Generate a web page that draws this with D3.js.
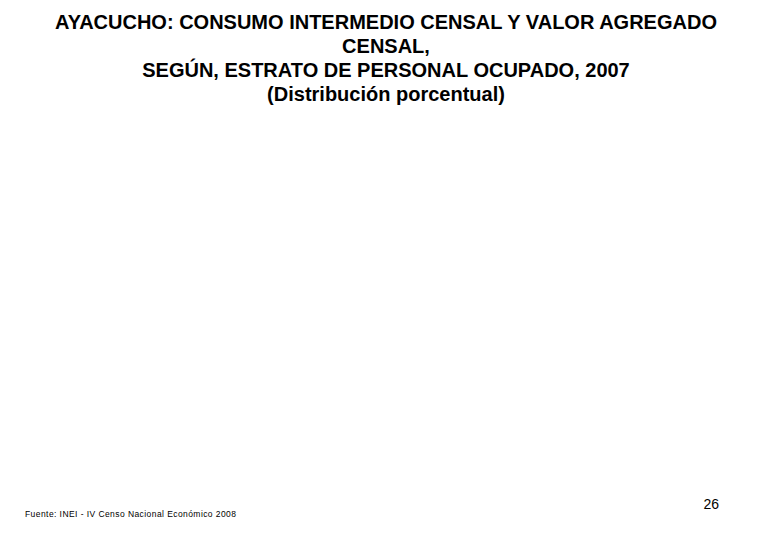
<!DOCTYPE html>
<html>
<head>
<meta charset="utf-8">
<script src="https://cdn.jsdelivr.net/npm/d3@7"></script>
<style>
  body { margin: 0; background: #fff; }
  svg { display: block; }
</style>
</head>
<body>
<div id="chart"></div>
<script>
// Title lines and page texts (the chart area itself is empty in the reference)
const titleLines = [
  "AYACUCHO: CONSUMO INTERMEDIO CENSAL Y VALOR AGREGADO",
  "CENSAL,",
  "SEGÚN, ESTRATO DE PERSONAL OCUPADO, 2007",
  "(Distribución porcentual)"
];
const sourceNote = "Fuente: INEI - IV Censo Nacional Económico 2008";
const pageNumber = "26";

const width = 766;
const height = 540;

const svg = d3.select("#chart").append("svg")
  .attr("width", width)
  .attr("height", height);

// Title, centered
const lineY = d3.scalePoint()
  .domain(d3.range(titleLines.length))
  .range([28.5, 100.5]);

svg.append("g")
  .selectAll("text")
  .data(titleLines)
  .join("text")
  .attr("x", 386)
  .attr("y", (d, i) => lineY(i))
  .attr("text-anchor", "middle")
  .style("font-family", "'Liberation Sans', Arial, sans-serif")
  .style("font-weight", "bold")
  .style("font-size", "20px")
  .style("fill", "#000")
  .text(d => d);

// Source note (spread out like the original)
svg.append("text")
  .attr("x", 25)
  .attr("y", 516.5)
  .attr("textLength", 211)
  .attr("lengthAdjust", "spacing")
  .style("font-family", "'Liberation Sans', Arial, sans-serif")
  .style("font-size", "8.5px")
  .style("fill", "#000")
  .text(sourceNote);

// Page number
svg.append("text")
  .attr("x", 719)
  .attr("y", 509)
  .attr("text-anchor", "end")
  .style("font-family", "'Liberation Sans', Arial, sans-serif")
  .style("font-size", "14px")
  .style("fill", "#000")
  .text(pageNumber);
</script>
</body>
</html>
